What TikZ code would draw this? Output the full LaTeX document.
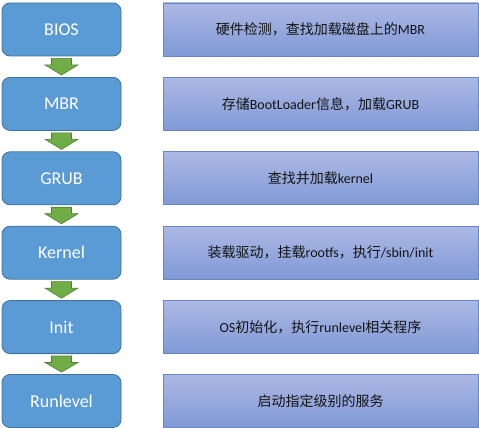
\documentclass[tikz,border=0pt]{standalone}
\usepackage{fontspec}
\setmainfont{Carlito}
\newfontfamily\cjk{Noto Sans CJK SC}
\newcommand{\zh}[1]{{\cjk #1}}
\usetikzlibrary{calc}
\definecolor{leftfill}{RGB}{91,155,213}
\definecolor{leftdraw}{RGB}{65,113,156}
\definecolor{rtop}{RGB}{172,184,228}
\definecolor{rbot}{RGB}{128,153,214}
\definecolor{rdraw}{RGB}{105,135,195}
\definecolor{arrfill}{RGB}{112,173,71}
\definecolor{arrdraw}{RGB}{80,126,50}
\definecolor{txt}{RGB}{20,20,20}
\tikzset{
  x=1pt, y=-1pt,
  stagebox/.style={draw=leftdraw, line width=0.8pt, fill=leftfill, rounded corners=8pt,
    minimum width=119pt, minimum height=53pt, inner sep=0pt, text=white,
    font=\fontsize{18}{20}\selectfont},
  descbox/.style={draw=rdraw, line width=0.8pt, top color=rtop, bottom color=rbot,
    minimum width=315pt, minimum height=53pt, inner sep=0pt, text=txt,
    font=\fontsize{14}{16}\selectfont},
  greenarrow/.style={draw=arrdraw, line width=0.6pt, fill=arrfill}
}
\newcommand{\garrow}[2]{%
  \path let \p1=(#1.south), \p2=(#2.north) in
    [greenarrow] (\x1-10pt,\y1-2pt) -- (\x1+10pt,\y1-2pt) -- (\x1+10pt,\y1-8.5pt)
    -- (\x1+16.5pt,\y1-8.5pt) -- (\x1,\y2+2pt) -- (\x1-16.5pt,\y1-8.5pt)
    -- (\x1-10pt,\y1-8.5pt) -- cycle;}
\begin{document}
\begin{tikzpicture}
\useasboundingbox (0,0) rectangle (479,428);
\node[stagebox] (bios) at (61.5,29.5) {BIOS};
\node[stagebox] (mbr) at (61.5,103.9) {MBR};
\node[stagebox] (grub) at (61.5,178.3) {GRUB};
\node[stagebox] (kernel) at (61.5,252.7) {Kernel};
\node[stagebox] (init) at (61.5,327.1) {Init};
\node[stagebox] (run) at (61.5,401.0) {Runlevel};
\node[descbox] (d1) at (320.5,29.5) {\zh{硬件检测，查找加载磁盘上的}MBR};
\node[descbox] (d2) at (320.5,103.9) {\zh{存储}BootLoader\zh{信息，加载}GRUB};
\node[descbox] (d3) at (320.5,178.3) {\zh{查找并加载}kernel};
\node[descbox] (d4) at (320.5,252.7) {\zh{装载驱动，挂载}rootfs\zh{，执行}/sbin/init};
\node[descbox] (d5) at (320.5,327.1) {OS\zh{初始化，执行}runlevel\zh{相关程序}};
\node[descbox] (d6) at (320.5,401.0) {\zh{启动指定级别的服务}};
\garrow{bios}{mbr}
\garrow{mbr}{grub}
\garrow{grub}{kernel}
\garrow{kernel}{init}
\garrow{init}{run}
\end{tikzpicture}
\end{document}
